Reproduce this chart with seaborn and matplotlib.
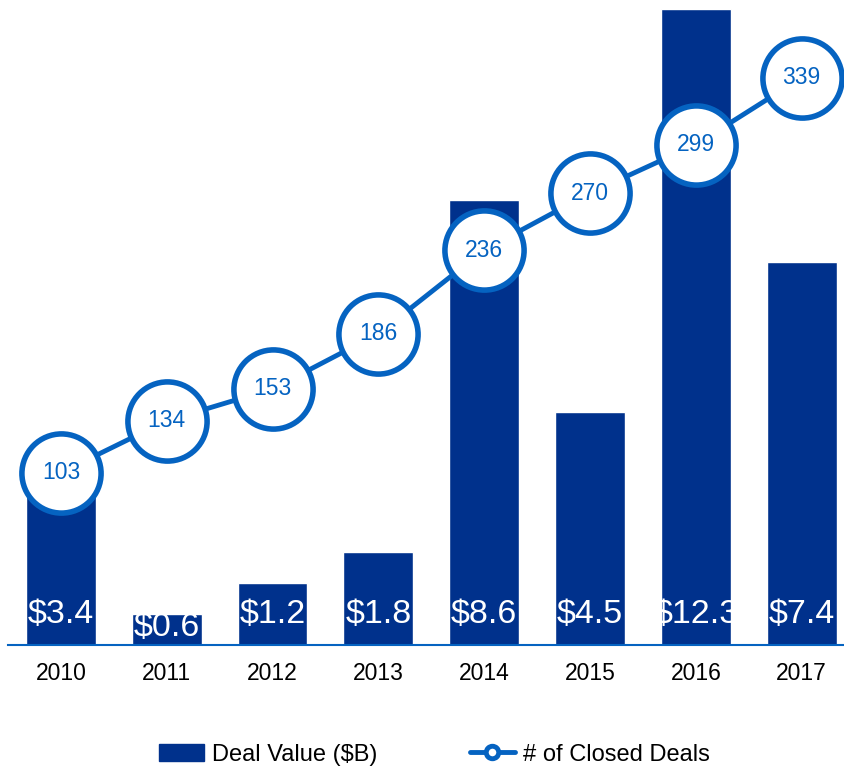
import pandas as pd
import matplotlib.pyplot as plt
import seaborn as sns
from matplotlib.lines import Line2D
from matplotlib.patches import Patch

# Chart data
years = ['2010', '2011', '2012', '2013', '2014', '2015', '2016', '2017']
deal_value = [3.4, 0.6, 1.2, 1.8, 8.6, 4.5, 12.3, 7.4]
closed_deals = [103, 134, 153, 186, 236, 270, 299, 339]

df = pd.DataFrame({'year': years, 'deal_value': deal_value, 'closed_deals': closed_deals})

sns.set_style('white')
plt.rcParams['font.family'] = ['Liberation Sans', 'DejaVu Sans']

bar_color = '#00318C'
line_color = '#0563C1'

fig = plt.figure(figsize=(8.44, 7.67), dpi=100)
ax = fig.add_axes([8 / 844, 122 / 767, 836 / 844, 636 / 767])

# Bars for deal value
sns.barplot(x='year', y='deal_value', data=df, ax=ax, color=bar_color, width=0.66, saturation=1)
ax.set_ylim(0, 12.3)
ax.set_xlim(-0.5, 7.4)
ax.set_xlabel('')
ax.set_ylabel('')
ax.set_yticks([])
for s in ['top', 'right', 'left']:
    ax.spines[s].set_visible(False)
ax.spines['bottom'].set_color(line_color)
ax.spines['bottom'].set_linewidth(1.5)
ax.tick_params(axis='x', length=0, labelsize=16.5, pad=12, colors='black')

# Labels inside bars (short bars get the label pushed down)
for i, v in enumerate(deal_value):
    off = 11 if v > 1 else 1.5
    ax.annotate(f'${v}', xy=(i, 0), xytext=(0, off), textcoords='offset points',
                ha='center', va='bottom', color='white', fontsize=24.5)

# Line for number of closed deals on a secondary axis
ax2 = ax.twinx()
sns.lineplot(x=list(range(len(years))), y=closed_deals, ax=ax2, color=line_color, linewidth=3.5,
             marker='o', markersize=57, markerfacecolor='white', markeredgecolor=line_color,
             markeredgewidth=4)
ax2.set_ylim(0, 380)
ax2.set_yticks([])
ax2.set_xlim(-0.5, 7.4)
for s in ['top', 'right', 'left', 'bottom']:
    ax2.spines[s].set_visible(False)
for i, v in enumerate(closed_deals):
    ax2.text(i, v, str(v), ha='center', va='center', color=line_color, fontsize=16.5)

# Legend
handles = [Patch(facecolor=bar_color, edgecolor=bar_color),
           Line2D([0], [0], color=line_color, linewidth=3.5, marker='o', markersize=9,
                  markerfacecolor='white', markeredgecolor=line_color, markeredgewidth=3.5)]
fig.legend(handles, ['Deal Value ($B)', '# of Closed Deals'], loc='lower center',
           bbox_to_anchor=(0.515, -0.026), ncol=2, frameon=False, fontsize=17,
           labelcolor='black', handlelength=1.9, handletextpad=0.35, columnspacing=3.9)

plt.savefig('out.png', dpi=100)
